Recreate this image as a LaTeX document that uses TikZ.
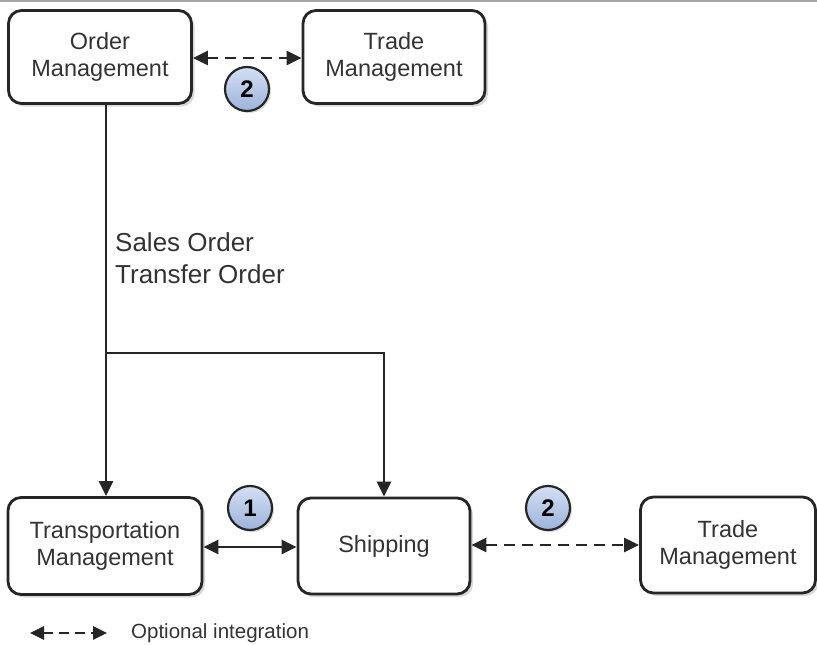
\documentclass[tikz,border=0pt]{standalone}
\usepackage{fontspec}
\setmainfont{Liberation Sans}
\usetikzlibrary{arrows.meta,shadows}
\definecolor{lineclr}{HTML}{262626}
\definecolor{txtclr}{HTML}{333333}
\definecolor{circtop}{HTML}{D3DFF3}
\definecolor{circbot}{HTML}{9DB3DC}
\tikzset{
  boxnode/.style={draw=lineclr, line width=2.8pt, rounded corners=13pt, fill=white,
    align=center, font=\fontsize{23.5}{27}\selectfont, text=txtclr,
    drop shadow={shadow xshift=3pt, shadow yshift=-3pt, fill=black!25, opacity=0.6}},
  numcirc/.style={circle, draw=lineclr, line width=2.2pt, minimum size=44pt, inner sep=0pt,
    top color=circtop, bottom color=circbot, font=\bfseries\fontsize{24}{26}\selectfont,
    drop shadow={shadow xshift=2pt, shadow yshift=-2pt, fill=black!25, opacity=0.6}},
  conn/.style={draw=lineclr, line width=2.8pt},
  tip/.style={-{Triangle[length=15pt,width=14pt]}},
  dtip/.style={{Triangle[length=15pt,width=14pt]}-{Triangle[length=15pt,width=14pt]}},
  dashline/.style={dash pattern=on 11pt off 7pt},
  lbl/.style={font=\fontsize{26}{32}\selectfont, text=txtclr, align=left}
}
\begin{document}
\begin{tikzpicture}[x=1pt,y=-1pt]
\useasboundingbox (0,0) rectangle (817,645);
\draw[black!35, line width=2pt] (0,1) -- (817,1);
\node[boxnode, minimum width=183pt, minimum height=93pt] (om) at (100,57) {Order\\Management};
\node[boxnode, minimum width=182pt, minimum height=93pt] (tm1) at (394,57) {Trade\\Management};
\node[boxnode, minimum width=194pt, minimum height=97pt] (trm) at (105,546) {Transportation\\Management};
\node[boxnode, minimum width=172pt, minimum height=96pt] (sh) at (384,546) {Shipping};
\node[boxnode, minimum width=175pt, minimum height=96pt] (tm2) at (728,545) {Trade\\Management};
\node[numcirc] (c2a) at (247,89) {2};
\node[numcirc] (c1) at (250,508) {1};
\node[numcirc] (c2b) at (548,508) {2};
\draw[conn, dtip, dashline] (om.east |- 0,58) -- (tm1.west |- 0,58);
\coordinate (br) at (106,353);
\draw[conn, tip] (om.south -| br) -- (trm.north -| br);
\draw[conn, tip] (br) -| (sh.north);
\draw[conn, dtip] (trm.east |- 0,547) -- (sh.west |- 0,547);
\draw[conn, dtip, dashline] (sh.east |- 0,545) -- (tm2.west |- 0,545);
\node[lbl, anchor=north west, inner sep=0pt] (so) at (115,232) {Sales Order\\Transfer Order};
\coordinate (la) at (30,633);
\coordinate (lb) at (107,633);
\draw[conn, line width=2.6pt, {Triangle[length=14pt,width=13pt]}-{Triangle[length=14pt,width=13pt]}, dash pattern=on 10pt off 6pt] (la) -- (lb);
\node[font=\fontsize{20.5}{24}\selectfont, text=txtclr, anchor=west, inner sep=0pt] (leg) at (131,633) {Optional integration};
\end{tikzpicture}
\end{document}
